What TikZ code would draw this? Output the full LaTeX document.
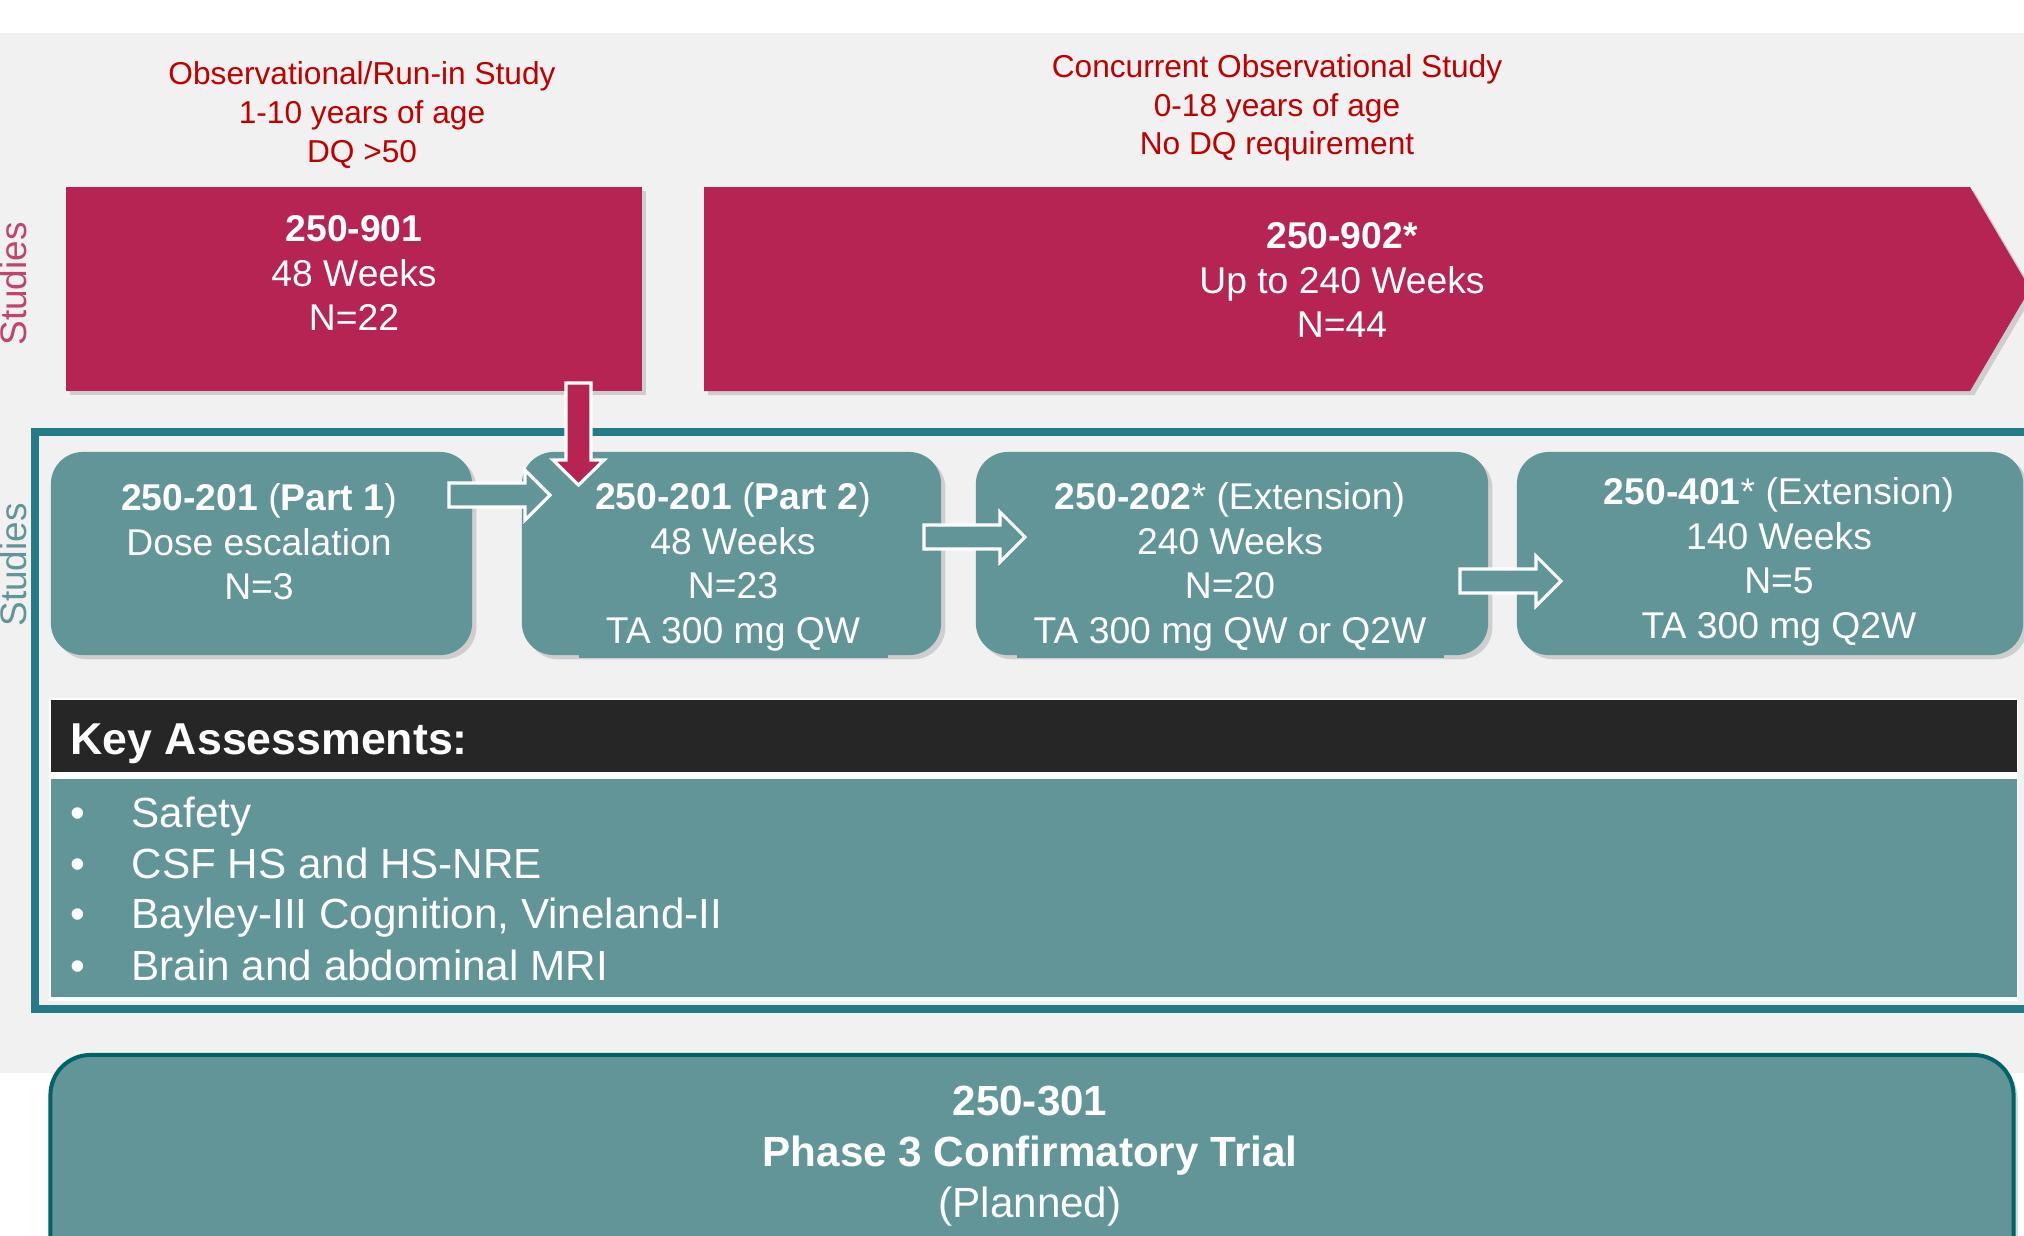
\documentclass[tikz,border=0pt]{standalone}
\usepackage{fontspec}
\setmainfont{Liberation Sans}
\usetikzlibrary{shadows,calc}
\definecolor{studyred}{RGB}{181,36,83}
\definecolor{headred}{RGB}{192,0,0}
\definecolor{boxteal}{RGB}{98,149,152}
\definecolor{frameteal}{RGB}{36,123,135}
\definecolor{darkteal}{RGB}{0,99,104}
\definecolor{keybar}{RGB}{38,38,38}
\definecolor{bggray}{RGB}{241,241,241}
\newcommand{\bulitem}{\makebox[6.1mm][l]{\textbullet}}

\begin{document}
\begin{tikzpicture}[x=0.01cm,y=-0.01cm,
    soft/.style={drop shadow={shadow xshift=1.2pt,shadow yshift=-1.2pt,opacity=.3}},
    redbox/.style={fill=studyred,soft},
    tealbox/.style={fill=boxteal,rounded corners=0.32cm,inner sep=0pt,soft},
    boxtxt/.style={text=white,align=center,font=\fontsize{10.6}{12.66}\selectfont},
    headtxt/.style={text=headred,align=center,font=\fontsize{9}{10.95}\selectfont},
    sidetxt/.style={rotate=90,anchor=base,font=\fontsize{10.5}{12}\selectfont},
    listtxt/.style={text=white,anchor=base west,inner sep=0pt,font=\fontsize{12}{14.5}\selectfont},
    hollow/.pic={\draw[white,line width=0.9pt,fill=boxteal]
      (-51,-12) -- (25,-12) -- (25,-25) -- (50,0) -- (25,25) -- (25,12) -- (-51,12) -- cycle;}]
  %\draw[help lines] (0,0) grid[step=1cm] (2024,1235);
  \useasboundingbox (0,0) rectangle (2024,1235);
  \fill[white] (0,0) rectangle (2024,1235);
  \fill[bggray] (0,33) rectangle (2024,1073);

  % run-in and observational studies
  \node[headtxt] (h901) at (362,115) {Observational/Run-in Study\\1-10 years of age\\DQ >50};
  \node[headtxt] (h902) at (1277,108) {Concurrent Observational Study\\0-18 years of age\\No DQ requirement};
  \node[sidetxt,text=studyred!85] (lab1) at (26,284) {Studies};
  \node[redbox,minimum width=5.76cm,minimum height=2.04cm,inner sep=0pt] (s901) at (354,289) {};
  \node[boxtxt] (t901) at (354,273) {\textbf{250-901}\\48 Weeks\\N=22};
  \path[redbox] (704,187) -- (1970,187) -- (2030,289) -- (1970,391) -- (704,391) -- cycle;
  \node[boxtxt] (t902) at (1342,280) {\textbf{250-902*}\\Up to 240 Weeks\\N=44};

  % treatment studies
  \draw[frameteal,line width=0.08cm] (35,432) rectangle (2060,1009);
  \node[sidetxt,text=boxteal] (lab2) at (26,565) {Studies};
  \node[tealbox,minimum width=4.21cm,minimum height=2.03cm] (p1) at (261.5,553.5) {};
  \node[tealbox,minimum width=4.19cm,minimum height=2.03cm] (p2) at (731.5,553.5) {};
  \node[tealbox,minimum width=5.12cm,minimum height=2.03cm] (p3) at (1232,553.5) {};
  \node[tealbox,minimum width=5.06cm,minimum height=2.03cm] (p4) at (1770,553.5) {};
  \fill[boxteal] (579,648) rectangle (888,658);
  \fill[boxteal] (1017,648) rectangle (1444,658);
  \node[boxtxt] (t1) at (259,542) {\textbf{250-201} (\textbf{Part 1})\\Dose escalation\\N=3};
  \node[boxtxt] (t2) at (733,567) {\textbf{250-201} (\textbf{Part 2})\\48 Weeks\\N=23\\TA 300 mg QW};
  \node[boxtxt] (t3) at (1230,567) {\textbf{250-202}* (Extension)\\240 Weeks\\N=20\\TA 300 mg QW or Q2W};
  \node[boxtxt] (t4) at (1779,562) {\textbf{250-401}* (Extension)\\140 Weeks\\N=5\\TA 300 mg Q2W};
  \pic at (500,495) {hollow};
  \pic at (975,537) {hollow};
  \pic at (1511,581) {hollow};

  % 901 feeds part 2
  \coordinate (dtop) at (578.5,383);
  \coordinate (dtip) at (578.5,485);
  \draw[white,line width=0.9pt,fill=studyred] (dtop) ++(-12.5,0) -- ++(25,0) -- ++(0,77)
    -- ++(13,0) -- (dtip) -- ++(-25.5,-25) -- ++(13,0) -- cycle;

  % key assessments
  \fill[white] (49,698) rectangle (2018,1001);
  \node[fill=keybar,minimum width=19.64cm,minimum height=0.72cm,inner sep=0pt] (kbar) at (1034,736) {};
  \node[text=white,anchor=base west,inner sep=0pt,font=\fontsize{12.7}{15}\selectfont\bfseries] (ktitle) at (70,754) {Key Assessments:};
  \node[fill=boxteal,minimum width=19.64cm,minimum height=2.18cm,inner sep=0pt] (klist) at (1034,888) {};
  \node[listtxt] (k1) at (70,827) {\bulitem Safety};
  \node[listtxt] (k2) at (70,878) {\bulitem CSF HS and HS-NRE};
  \node[listtxt] (k3) at (70,928) {\bulitem Bayley-III Cognition, Vineland-II};
  \node[listtxt] (k4) at (70,980) {\bulitem Brain and abdominal MRI};

  % phase 3
  \node[fill=boxteal,draw=darkteal,line width=0.04cm,rounded corners=0.4cm,inner sep=0pt,soft,
    minimum width=19.62cm,minimum height=2.6cm] (p301) at (1032,1185) {};
  \node[text=white,align=center,font=\fontsize{12}{14.5}\selectfont] (t301) at (1030,1156)
    {\textbf{250-301}\\\textbf{Phase 3 Confirmatory Trial}\\(Planned)};
\end{tikzpicture}
\end{document}
